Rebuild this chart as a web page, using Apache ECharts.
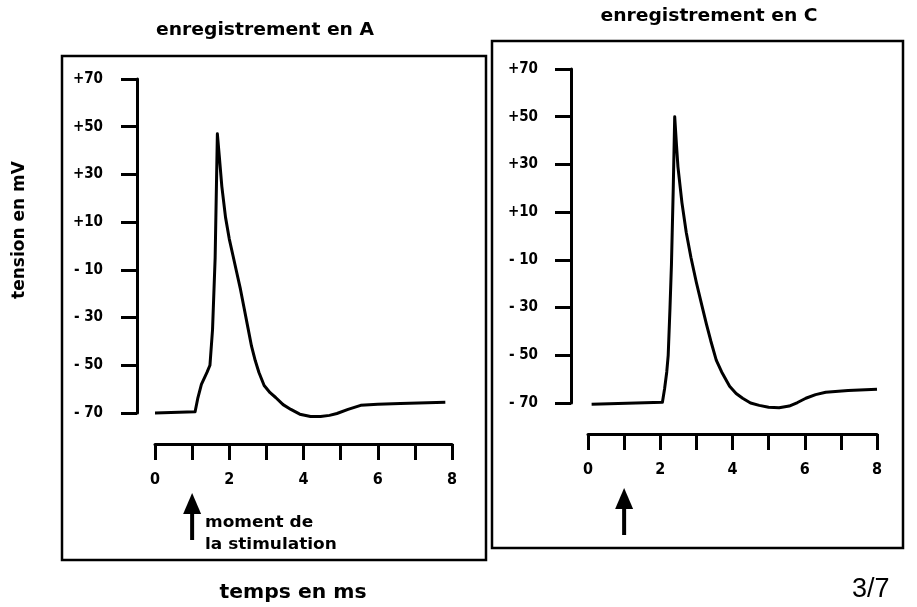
<!DOCTYPE html>
<html>
<head>
<meta charset="utf-8">
<script src="https://cdn.jsdelivr.net/npm/echarts@6/dist/echarts.min.js"></script>
<style>
  html, body { margin: 0; padding: 0; background: #fff; }
  #chart { width: 917px; height: 607px; }
</style>
</head>
<body>
<div id="chart"></div>
<script>
'use strict';

// recording at A (ms, mV)
const timeA = [0, 1.08, 1.15, 1.25, 1.4, 1.48, 1.55, 1.62, 1.68, 1.73, 1.8, 1.9, 2.0, 2.1, 2.2, 2.3, 2.4, 2.5, 2.6, 2.7, 2.8, 2.94, 3.1, 3.25, 3.45, 3.66, 3.9, 4.19, 4.46, 4.7, 4.9, 5.2, 5.54, 6.0, 6.61, 7.82];
const voltA = [-70, -69.5, -64, -58, -53, -50, -35, -5, 47, 38, 25, 12, 3, -4, -11, -18, -26, -34, -42, -48, -53, -58.5, -61.5, -63.5, -66.5, -68.5, -70.5, -71.5, -71.5, -71, -70.2, -68.5, -66.8, -66.3, -66, -65.5];

// recording at C (ms, mV)
const timeC = [0.1, 2.06, 2.12, 2.18, 2.22, 2.27, 2.31, 2.36, 2.4, 2.45, 2.49, 2.6, 2.72, 2.85, 3.0, 3.15, 3.28, 3.4, 3.55, 3.7, 3.92, 4.1, 4.28, 4.5, 4.74, 5.0, 5.29, 5.57, 5.8, 6.03, 6.3, 6.58, 7.2, 8.0];
const voltC = [-70.5, -69.7, -64, -57, -50, -30, -12, 20, 50, 38, 29, 14, 1.5, -9, -19.5, -29, -37, -44, -52, -57, -63, -66, -68, -70, -71, -71.8, -72, -71.3, -69.8, -68, -66.5, -65.5, -64.8, -64.2];

const voltTicks = [-70, -50, -30, -10, 10, 30, 50, 70];
const timeLabels = [0, 2, 4, 6, 8];
const stimulusTime = 1;

const titles = ['enregistrement en A', 'enregistrement en C'];
const yName = 'tension en mV';
const xName = 'temps en ms';
const stimulusText = ['moment de', 'la stimulation'];
const pageNumber = '3/7';

const FONT = '"DejaVu Sans", "Liberation Sans", sans-serif';
const TICK_FONT = '"DejaVu Sans Condensed", "Liberation Sans Narrow", "Liberation Sans", sans-serif';
const chart = echarts.init(document.getElementById('chart'));

function zip(xs, ys) {
    return xs.map((x, i) => [x, ys[i]]);
}

function voltLabel(v) {
    return v > 0 ? '+' + v : '- ' + Math.abs(v);
}

function makeYAxis(gridIndex, offset, margin) {
    return {
        type: 'value',
        gridIndex: gridIndex,
        min: -70,
        max: 70,
        offset: offset,
        axisLine: {show: true, onZero: false, lineStyle: {color: '#000', width: 3}},
        axisTick: {show: true, customValues: voltTicks, length: 16, lineStyle: {color: '#000', width: 3}},
        axisLabel: {
            customValues: voltTicks,
            formatter: voltLabel,
            margin: margin,
            color: '#000',
            fontFamily: TICK_FONT,
            fontWeight: 'bold',
            fontSize: 15
        },
        splitLine: {show: false}
    };
}

function makeXAxis(gridIndex) {
    return {
        type: 'value',
        gridIndex: gridIndex,
        min: 0,
        max: 8,
        interval: 1,
        offset: 31,
        axisLine: {show: true, onZero: false, lineStyle: {color: '#000', width: 3}},
        axisTick: {show: true, length: 16, lineStyle: {color: '#000', width: 3}},
        axisLabel: {
            customValues: timeLabels,
            margin: 28,
            color: '#000',
            fontFamily: TICK_FONT,
            fontWeight: 'bold',
            fontSize: 16
        },
        splitLine: {show: false}
    };
}

function makeSeries(index, data) {
    return {
        type: 'line',
        xAxisIndex: index,
        yAxisIndex: index,
        data: data,
        showSymbol: false,
        smooth: false,
        clip: false,
        lineStyle: {color: '#000', width: 3, join: 'round'},
        animation: false
    };
}

chart.setOption({
    animation: false,
    backgroundColor: '#fff',
    grid: [
        {left: 155, top: 79, width: 297, height: 334},
        {left: 588, top: 69, width: 289, height: 334}
    ],
    xAxis: [makeXAxis(0), makeXAxis(1)],
    yAxis: [makeYAxis(0, 18, 34), makeYAxis(1, 17, 33)],
    series: [
        makeSeries(0, zip(timeA, voltA)),
        makeSeries(1, zip(timeC, voltC))
    ]
});

// bold text like the scanned sheet
function label(text, x, y, size, opts) {
    opts = opts || {};
    return {
        type: 'text',
        x: x,
        y: y,
        scaleX: opts.scaleX || 1,
        rotation: opts.rotation || 0,
        silent: true,
        style: {
            text: text,
            font: (opts.weight || 'bold') + ' ' + size + 'px ' + (opts.family || FONT),
            fill: '#000',
            align: opts.align || 'center',
            verticalAlign: 'middle'
        }
    };
}

function arrow(x, top, bottom) {
    return [
        {type: 'polygon', silent: true, shape: {points: [[x, top], [x - 9, top + 21], [x + 9, top + 21]]}, style: {fill: '#000'}},
        {type: 'rect', silent: true, shape: {x: x - 2, y: top + 19, width: 4, height: bottom - top - 19}, style: {fill: '#000'}}
    ];
}

const stimA = chart.convertToPixel({xAxisIndex: 0}, stimulusTime);
const stimC = chart.convertToPixel({xAxisIndex: 1}, stimulusTime);

const graphics = [
    {type: 'rect', silent: true, shape: {x: 62, y: 56, width: 424, height: 504}, style: {fill: 'none', stroke: '#000', lineWidth: 2.5}},
    {type: 'rect', silent: true, shape: {x: 492, y: 41, width: 411, height: 507}, style: {fill: 'none', stroke: '#000', lineWidth: 2.5}},
    label(titles[0], 265, 30, 18, {scaleX: 1.04}),
    label(titles[1], 709, 16, 18, {scaleX: 1.04}),
    label(yName, 20, 230, 17, {rotation: Math.PI / 2}),
    label(xName, 293, 593, 19, {scaleX: 1.07}),
    label(stimulusText[0], 205, 523, 16, {scaleX: 1.06, align: 'left'}),
    label(stimulusText[1], 205, 545, 16, {scaleX: 1.06, align: 'left'}),
    label(pageNumber, 852, 590, 27, {weight: 'normal', align: 'left', family: '"Liberation Sans", sans-serif'})
].concat(arrow(stimA, 493, 540), arrow(stimC, 488, 535));

chart.setOption({graphic: graphics});
</script>
</body>
</html>
